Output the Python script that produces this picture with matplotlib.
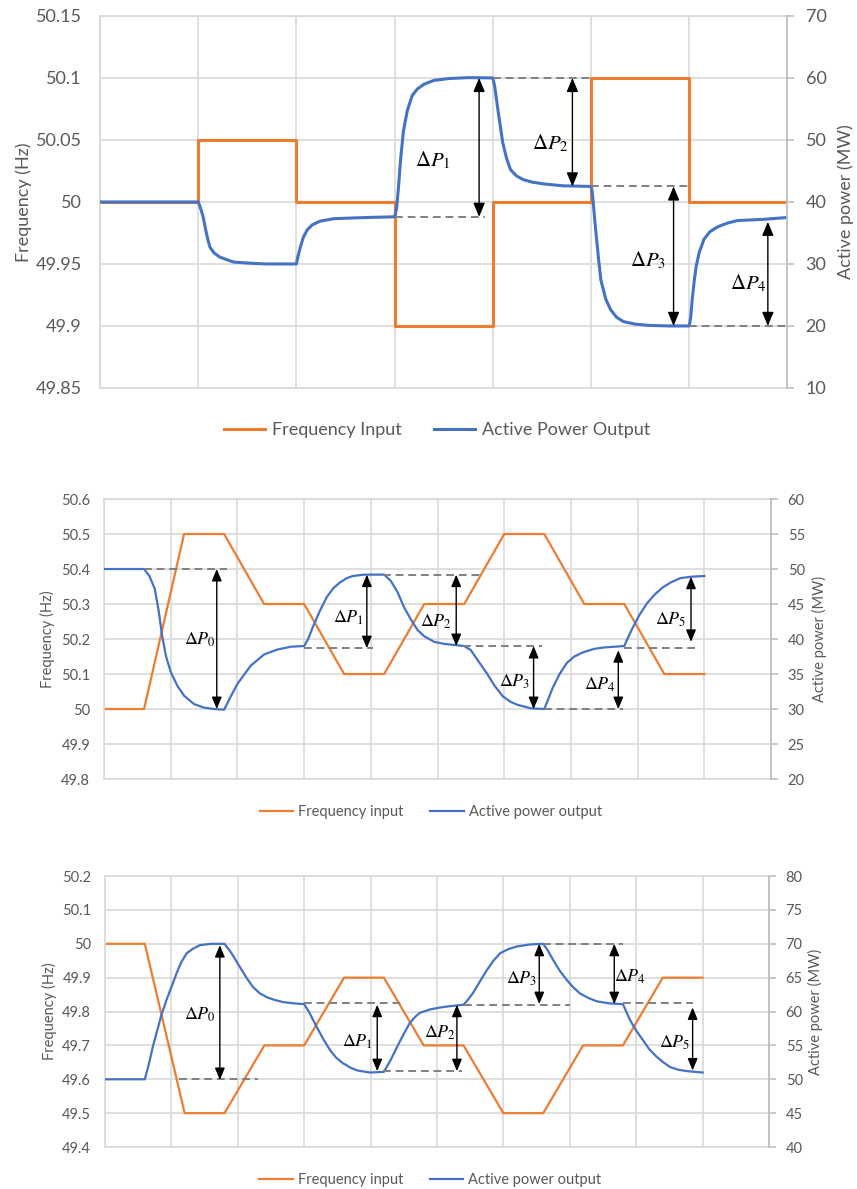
import numpy as np
import matplotlib
matplotlib.use('Agg')
import matplotlib.pyplot as plt
from matplotlib.ticker import FuncFormatter
from matplotlib.lines import Line2D

plt.rcParams['font.family'] = ['Lato', 'DejaVu Sans']
plt.rcParams['mathtext.fontset'] = 'stix'

ORANGE = '#ED7D31'
BLUE = '#4472C4'
GRID = '#D9D9D9'
TEXT = '#595959'

# ---------------- chart 1: step changes ----------------
step_x = [0, 1, 2, 3, 4, 5, 6, 7]
step_freq = [50, 50.05, 50, 49.9, 50, 50.1, 50, 50]
step_pow_x = [0, 1.0, 1.02, 1.05, 1.08, 1.1, 1.12, 1.16, 1.22, 1.36, 1.55, 1.7,
              2.0, 2.01, 2.02, 2.04, 2.07, 2.11, 2.16, 2.24, 2.38, 2.72,
              3.0, 3.02, 3.04, 3.06, 3.09, 3.13, 3.18, 3.23, 3.3, 3.4, 3.55, 3.75,
              4.0, 4.02, 4.05, 4.08, 4.1, 4.14, 4.18, 4.24, 4.31, 4.4, 4.52, 4.72,
              5.0, 5.01, 5.02, 5.035, 5.05, 5.075, 5.1, 5.15, 5.2, 5.26, 5.33, 5.45, 5.58, 5.8,
              6.0, 6.015, 6.03, 6.05, 6.07, 6.1, 6.15, 6.21, 6.29, 6.39, 6.49, 6.76, 7.0]
step_pow = [40, 40, 39.2, 37.6, 35.2, 33.8, 32.7, 31.8, 31.1, 30.3, 30.1, 30,
            30, 30.8, 31.5, 32.7, 34.3, 35.5, 36.3, 36.9, 37.3, 37.5,
            37.6, 39, 42.5, 46.8, 51.5, 54.8, 57.2, 58.2, 59.0, 59.6, 59.9, 60.05,
            60, 58.5, 55, 51.8, 49.6, 47, 45.2, 44.2, 43.6, 43.2, 42.9, 42.6,
            42.5, 41.8, 40.3, 37.5, 35, 31, 27.4, 24.3, 22.6, 21.4, 20.7, 20.3, 20.1, 20.0,
            20, 21.5, 24.3, 27.2, 29.6, 31.8, 34, 35.2, 36, 36.6, 37.0, 37.2, 37.5]
step_arrows = [(3.86, 60, 37.6), (4.81, 60, 42.5), (5.84, 42.5, 20), (6.8, 36.8, 20)]
step_labels = [(3.39, 46.8, 1), (4.59, 49.5, 2), (5.58, 30.6, 3), (6.6, 26.9, 4)]
step_dashes = [(3.0, 3.92, 37.6), (4.0, 5.0, 60), (5.0, 6.0, 42.5), (6.0, 7.0, 20)]

# ---------------- chart 2: ramps above 50 Hz ----------------
ramp_x = [0, 0.6, 1.2, 1.8, 2.4, 3.0, 3.6, 4.2, 4.8, 5.4, 6.0, 6.6, 7.2, 7.8, 8.4, 9.0]
up_freq = [50, 50, 50.5, 50.5, 50.3, 50.3, 50.1, 50.1, 50.3, 50.3, 50.5, 50.5, 50.3, 50.3, 50.1, 50.1]
up_pow_x = [0, 0.6, 0.68, 0.76, 0.82, 0.87, 0.93, 1.0, 1.1, 1.2, 1.35, 1.5, 1.65,
            1.8, 1.9, 2.0, 2.2, 2.4, 2.6, 2.8,
            3.0, 3.06, 3.13, 3.23, 3.34, 3.44, 3.54, 3.64, 3.73, 3.9,
            4.2, 4.3, 4.4, 4.5, 4.6, 4.7, 4.8, 4.95, 5.1,
            5.4, 5.5, 5.6, 5.74, 5.85, 5.98, 6.1, 6.2, 6.4,
            6.6, 6.65, 6.73, 6.83, 6.94, 7.05, 7.18, 7.35, 7.5,
            7.8, 7.86, 7.93, 8.03, 8.14, 8.26, 8.38, 8.5, 8.64, 8.8, 9.0]
up_pow = [50, 50, 49, 47.2, 44, 40.5, 37.5, 35.3, 33.3, 31.9, 30.7, 30.2, 30.0,
          29.9, 31.8, 33.6, 36.2, 37.8, 38.5, 38.9,
          39.0, 40.0, 41.7, 43.9, 46.0, 47.3, 48.1, 48.7, 49.0, 49.2,
          49.2, 48.3, 46.7, 44.5, 42.8, 41.3, 40.4, 39.6, 39.3,
          39.0, 38.4, 37.0, 35.1, 33.4, 31.8, 31.0, 30.6, 30.1,
          30.0, 31.2, 33.1, 35.0, 36.6, 37.5, 38.1, 38.6, 38.8,
          39.0, 40.3, 41.7, 43.5, 45.1, 46.4, 47.4, 48.1, 48.7, 48.9, 49.0]
up_arrows = [(1.69, 50, 30), (3.94, 49.2, 38.7), (5.28, 49.2, 39), (6.44, 39, 30),
             (7.71, 38.4, 30), (8.8, 48.9, 39.6)]
up_labels = [(1.44, 39.9, 0), (3.66, 43.1, 1), (4.98, 42.4, 2), (6.16, 33.9, 3),
             (7.44, 33.4, 4), (8.49, 42.7, 5)]
up_dashes = [(0.6, 1.85, 50), (3.0, 4.03, 38.7), (4.18, 5.67, 49.2), (5.38, 6.57, 39),
             (6.6, 7.78, 30), (7.8, 8.94, 38.7)]

# ---------------- chart 3: ramps below 50 Hz ----------------
down_freq = [50, 50, 49.5, 49.5, 49.7, 49.7, 49.9, 49.9, 49.7, 49.7, 49.5, 49.5, 49.7, 49.7, 49.9, 49.9]
down_pow_x = [0, 0.6, 0.66, 0.72, 0.85, 0.93, 1.0, 1.08, 1.15, 1.23, 1.33, 1.43, 1.6,
              1.8, 1.9, 2.03, 2.13, 2.23, 2.33, 2.44, 2.56, 2.68, 2.85,
              3.0, 3.08, 3.19, 3.29, 3.39, 3.48, 3.58, 3.7, 3.8, 3.99,
              4.2, 4.3, 4.4, 4.5, 4.59, 4.67, 4.74, 4.89, 5.05, 5.2,
              5.4, 5.47, 5.54, 5.65, 5.75, 5.85, 5.95, 6.07, 6.2, 6.4,
              6.6, 6.67, 6.75, 6.85, 6.96, 7.05, 7.15, 7.28, 7.41, 7.6,
              7.8, 7.85, 7.91, 8.0, 8.1, 8.2, 8.31, 8.41, 8.51, 8.64, 8.77, 9.0]
down_pow = [50, 50, 52.2, 54.8, 59.5, 61.8, 63.6, 65.7, 67.3, 68.6, 69.3, 69.8, 70,
            70, 68.7, 66.6, 65.0, 63.6, 62.7, 62.1, 61.7, 61.4, 61.2,
            61.1, 59.8, 57.7, 55.9, 54.3, 53.2, 52.4, 51.7, 51.3, 51.0,
            51.1, 52.8, 54.8, 56.7, 58.3, 59.2, 59.8, 60.3, 60.6, 60.8,
            61.0, 61.8, 62.7, 64.5, 66.1, 67.5, 68.6, 69.2, 69.6, 69.9,
            70.0, 69.0, 67.6, 66.0, 64.6, 63.6, 62.7, 62.0, 61.5, 61.2,
            61.1, 60.0, 58.7, 57.2, 55.8, 54.4, 53.3, 52.5, 51.8, 51.4, 51.2, 51.0]
down_arrows = [(1.73, 69.8, 49.9), (4.1, 61.0, 51.2), (5.3, 61.0, 51.2), (6.54, 70, 61.1),
               (7.67, 70, 61.1), (8.85, 60.6, 51.3)]
down_labels = [(1.43, 59.5, 0), (3.81, 55.5, 1), (5.05, 56.8, 2), (6.28, 64.9, 3),
               (7.91, 65.1, 4), (8.58, 55.4, 5)]
down_dashes = [(1.12, 2.3, 50), (3.0, 4.47, 61.2), (4.19, 5.38, 51.2), (5.4, 7.0, 61.0),
               (6.6, 7.8, 70), (7.8, 8.85, 61.2)]


def fmt(v, pos):
    return '{:g}'.format(round(v, 3))


def panel(fig, rect, xmax, flim, fstep, plim, pstep, fx, fy, px, py,
          arrows, labels, dashes, names, fs, lw, step, lab_x, legend_y,
          lpad, rpad, head, lab_fs):
    ax = fig.add_axes(rect)
    ax2 = ax.twinx()
    if step:
        ax.plot(fx, fy, color=ORANGE, lw=lw, drawstyle='steps-post')
    else:
        ax.plot(fx, fy, color=ORANGE, lw=lw)
    ax2.plot(px, py, color=BLUE, lw=lw)

    ax.set_xlim(0, xmax)
    ax.set_ylim(*flim)
    ax2.set_ylim(*plim)
    ax.set_xticks(range(xmax + 1))
    ax.set_yticks(np.arange(flim[0], flim[1] + fstep / 2, fstep))
    ax2.set_yticks(np.arange(plim[0], plim[1] + pstep / 2, pstep))
    ax.yaxis.set_major_formatter(FuncFormatter(fmt))
    ax2.yaxis.set_major_formatter(FuncFormatter(fmt))
    ax.grid(True, color=GRID, lw=1.2)
    ax.set_axisbelow(True)
    ax.tick_params(axis='x', length=0, labelbottom=False)
    ax.tick_params(axis='y', length=0, labelsize=fs, labelcolor=TEXT, pad=lpad)
    ax2.tick_params(axis='y', length=5, width=1.2, color='#BFBFBF', labelsize=fs,
                    labelcolor=TEXT, pad=rpad)
    for s in ax.spines.values():
        s.set_color(GRID)
        s.set_linewidth(1.2)
    for k in ['left', 'top', 'bottom']:
        ax2.spines[k].set_visible(False)
    ax2.spines['right'].set_color('#BFBFBF')
    ax2.spines['right'].set_linewidth(1.2)

    ax.set_ylabel('Frequency (Hz)', fontsize=fs, color=TEXT)
    ax2.set_ylabel('Active power (MW)', fontsize=fs, color=TEXT)
    ax.yaxis.set_label_coords(lab_x[0], 0.5)
    ax2.yaxis.set_label_coords(lab_x[1], 0.5)

    for x0, x1, y in dashes:
        ax2.plot([x0, x1], [y, y], color='#808080', lw=1.4, dashes=(4, 2.5))
    for x, ytop, ybot in arrows:
        ax2.annotate('', xy=(x, ybot), xytext=(x, ytop),
                     arrowprops=dict(arrowstyle='<|-|>,head_length=0.6,head_width=0.25',
                                     color='black', lw=1, mutation_scale=head,
                                     shrinkA=0, shrinkB=0))
    for x, y, n in labels:
        ax2.text(x, y, r'$\Delta P_{%d}$' % n, fontsize=lab_fs, ha='center', va='center')

    handles = [Line2D([], [], color=ORANGE, lw=lw), Line2D([], [], color=BLUE, lw=lw)]
    ax2.legend(handles, names, loc='center', bbox_to_anchor=(0.49, legend_y), ncol=2,
               frameon=False, fontsize=fs, labelcolor=TEXT, handlelength=2.3,
               handletextpad=0.35, columnspacing=1.8)
    return ax, ax2


fig = plt.figure(figsize=(8.57, 11.89), dpi=100)

panel(fig, [0.1167, 0.6737, 0.8022, 0.3129], 7, (49.85, 50.15), 0.05, (10, 70), 10,
      step_x, step_freq, step_pow_x, step_pow, step_arrows, step_labels, step_dashes,
      ['Frequency Input', 'Active Power Output'], 13, 2.2, True, (-0.099, 1.073), -0.113,
      13, 8, 14, 15)

panel(fig, [0.1214, 0.3448, 0.7783, 0.2355], 10, (49.8, 50.6), 0.1, (20, 60), 5,
      ramp_x, up_freq, up_pow_x, up_pow, up_arrows, up_labels, up_dashes,
      ['Frequency input', 'Active power output'], 10.5, 1.6, False, (-0.073, 1.061), -0.118,
      10, 7, 12, 13)

panel(fig, [0.1225, 0.0353, 0.7748, 0.2279], 10, (49.4, 50.2), 0.1, (40, 80), 5,
      ramp_x, down_freq, down_pow_x, down_pow, down_arrows, down_labels, down_dashes,
      ['Frequency input', 'Active power output'], 10.5, 1.6, False, (-0.072, 1.059), -0.122,
      10, 7, 12, 13)

fig.savefig('out.png', dpi=100)
